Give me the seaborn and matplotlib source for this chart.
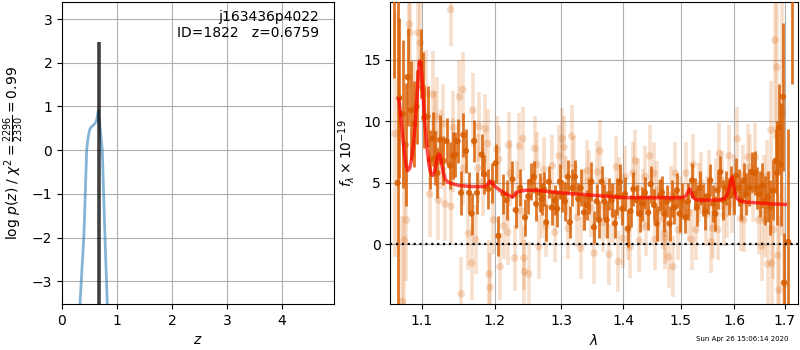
import numpy as np
import pandas as pd
import matplotlib
matplotlib.use("Agg")
import matplotlib.pyplot as plt
import seaborn as sns
from matplotlib.ticker import FixedLocator, FixedFormatter, NullLocator

# ---------------- data ----------------
# redshift probability curve
pz_z = [0.30, 0.327, 0.40, 0.449, 0.47, 0.50, 0.52, 0.56, 0.60, 0.63, 0.66,
        0.69, 0.733, 0.78, 0.824, 0.85]
pz_logp = [-4.3, -3.52, -1.91, 0.0, 0.25, 0.45, 0.51, 0.56, 0.61, 0.68, 0.9,
           0.55, 0.0, -1.91, -3.52, -4.5]
z_best = 0.6759
z_line_range = [-3.6, 2.47]

obj_name = "j163436p4022"
obj_id = 1822
chi2_num, chi2_den, chi2_red = 2296, 2330, 0.99
timestamp = "Sun Apr 26 15:06:14 2020"

# binned (dark) spectrum
wl_dark = [1.0631, 1.0683, 1.0704, 1.0747, 1.0786, 1.0811, 1.0856, 1.0899, 1.0929, 1.0982,
           1.1008, 1.1030, 1.1074, 1.1106, 1.1141, 1.1173, 1.1205, 1.1240, 1.1285, 1.1330,
           1.1376, 1.1422, 1.1445, 1.1481, 1.1528, 1.1559, 1.1597, 1.1639, 1.1675, 1.1709,
           1.1751, 1.1816, 1.1855, 1.1912, 1.1969, 1.2016, 1.2055, 1.2128, 1.2176, 1.2260,
           1.2309, 1.2374, 1.2448,
           1.2495, 1.2530, 1.2580, 1.2615, 1.2666, 1.2696, 1.2732, 1.2768, 1.2809, 1.2850,
           1.2901, 1.2937, 1.2979, 1.3015, 1.3057, 1.3104, 1.3135, 1.3172, 1.3215, 1.3268,
           1.3306, 1.3359, 1.3402, 1.3439, 1.3478, 1.3520, 1.3564, 1.3601, 1.3645, 1.3688,
           1.3727, 1.3765, 1.3810, 1.3865, 1.3904, 1.3948, 1.3987, 1.4032, 1.4083, 1.4128,
           1.4174, 1.4230, 1.4282, 1.4327, 1.4373, 1.4431, 1.4472, 1.4530, 1.4576, 1.4635,
           1.4668, 1.4709, 1.4757, 1.4804, 1.4845, 1.4887, 1.4934, 1.4983, 1.5031, 1.5086,
           1.5134, 1.5206, 1.5255, 1.5298, 1.5346, 1.5402, 1.5452, 1.5502, 1.5546, 1.5595,
           1.5639, 1.5683, 1.5733, 1.5784, 1.5835, 1.5891, 1.5935, 1.5985, 1.6037, 1.6088,
           1.6134, 1.6179, 1.6232, 1.6285, 1.6341, 1.6394, 1.6440, 1.6492, 1.6545, 1.6605,
           1.6660, 1.6704, 1.6758, 1.6811, 1.6845, 1.6880, 1.6914, 1.6961, 1.6984, 1.7068,
           1.7145]
fl_dark = [22.0, 5.0, 11.9, 10.6, 8.1, 13.6, 10.9, 9.8, 11.2, 14.7,
           12.8, 10.3, 10.4, 6.9, 8.6, 7.0, 5.8, 8.5, 6.8, 8.4,
           6.4, 7.2, 7.3, 8.4, 4.2, 8.9, 7.6, 4.2, 2.5, 8.4,
           4.2, 7.3, 5.7, 4.5, 5.0, 6.6, 0.7, 4.1, 3.6, 5.3,
           2.8, 4.6, 2.2,
           3.9, 5.1, 5.5, 3.3, 4.2, 3.7, 4.5, 1.8, 5.1, 3.0,
           3.6, 2.9, 5.1, 3.9, 3.5, 5.5, 1.8, 4.6, 5.5, 3.7,
           4.6, 2.6, 3.2, 3.9, 5.1, 1.4, 3.5, 2.0, 5.1, 3.5,
           2.0, 4.1, 3.6, 1.7, 3.9, 5.1, 2.9, 4.1, 1.3, 2.7,
           4.5, 3.6, 2.5, 3.3, 4.2, 2.6, 4.9, 3.2, 1.7, 4.0,
           4.2, 2.5, 3.5, 1.7, 3.7, 3.0, 4.4, 2.5, 3.6, 2.2,
           3.5, 5.2, 4.1, 3.0, 4.6, 3.6, 2.7, 3.9, 5.2, 3.3,
           2.5, 4.4, 5.9, 3.6, 4.6, 3.9, 5.1, 4.1, 5.6, 4.6,
           3.6, 5.2, 4.1, 4.6, 5.9, 5.8, 4.6, 4.1, 4.8, 3.6,
           3.9, 3.0, 4.4, 6.8, 5.8, 9.5, 6.5, 12.0, -3.1, 0.2,
           22.0]
er_dark = [8.5, 30.0, 6.5, 6.0, 5.0, 4.0, 4.0, 3.5, 3.0, 2.8,
           2.8, 2.5, 2.5, 2.4, 2.2, 2.2, 2.0, 2.0, 2.0, 1.9,
           1.9, 1.9, 1.8, 1.8, 1.8, 1.8, 1.8, 1.7, 1.7, 1.7,
           1.7, 1.7, 1.6, 1.6, 1.6, 1.6, 1.6, 1.6, 1.6, 1.5,
           1.5, 1.5, 1.5,
           1.4, 1.5, 1.3, 1.4, 1.6, 1.3, 1.4, 1.5, 1.3, 1.4,
           1.2, 1.5, 1.4, 1.3, 1.6, 1.4, 1.3, 1.5, 1.4, 1.3,
           1.5, 1.4, 1.2, 1.4, 1.6, 1.3, 1.4, 1.5, 1.3, 1.4,
           1.5, 1.3, 1.4, 1.2, 1.5, 1.4, 1.3, 1.4, 1.5, 1.3,
           1.4, 1.2, 1.5, 1.4, 1.3, 1.4, 1.5, 1.3, 1.4, 1.3,
           1.4, 1.5, 1.3, 1.4, 1.5, 1.3, 1.4, 1.5, 1.4, 1.3,
           1.5, 1.4, 1.3, 1.5, 1.4, 1.3, 1.5, 1.4, 1.3, 1.5,
           1.4, 1.5, 1.3, 1.6, 1.4, 1.5, 1.3, 1.6, 1.4, 1.5,
           1.6, 1.4, 1.7, 1.5, 1.6, 1.8, 1.7, 1.9, 1.8, 2.0,
           2.1, 2.2, 2.4, 2.6, 4.2, 3.5, 5.0, 6.0, 4.0, 9.2,
           9.0]

# unbinned (light) spectrum
wl_light = [1.0650, 1.0745, 1.0770, 1.0796, 1.0836, 1.0845, 1.0900, 1.0948, 1.0978, 1.1050,
            1.1101, 1.1141, 1.1170, 1.1195, 1.1220, 1.1254, 1.1286, 1.1308, 1.1385, 1.1390,
            1.1412, 1.1422, 1.1505, 1.1529, 1.1552, 1.1561, 1.1631, 1.1675, 1.1690, 1.1732,
            1.1761, 1.1780, 1.1830, 1.1865, 1.1902, 1.1920, 1.1936, 1.1985, 1.2033, 1.2058,
            1.2081, 1.2131, 1.2190, 1.2204, 1.2229, 1.2293, 1.2328, 1.2364, 1.2394, 1.2414,
            1.2429, 1.2439,
            1.2504, 1.2594, 1.2629, 1.2655, 1.2700, 1.2731, 1.2767, 1.2860, 1.2900, 1.2964,
            1.3016, 1.3042, 1.3080, 1.3110, 1.3163, 1.3200, 1.3250, 1.3306, 1.3359, 1.3413,
            1.3440, 1.3480, 1.3521, 1.3575, 1.3614, 1.3660, 1.3712, 1.3767, 1.3840, 1.3890,
            1.3923, 1.3935, 1.4000, 1.4036, 1.4076, 1.4116, 1.4162, 1.4208, 1.4250, 1.4278,
            1.4336, 1.4382, 1.4400, 1.4453, 1.4523, 1.4541, 1.4580, 1.4618, 1.4690, 1.4719,
            1.4727, 1.4786, 1.4830, 1.4862, 1.4903, 1.4962, 1.5000, 1.5099, 1.5150, 1.5200,
            1.5230, 1.5278, 1.5330, 1.5380, 1.5470, 1.5520, 1.5561, 1.5592, 1.5650, 1.5684,
            1.5714, 1.5760, 1.5807, 1.5869, 1.5900, 1.5950, 1.5994, 1.6056, 1.6119, 1.6160,
            1.6183, 1.6266, 1.6311, 1.6360, 1.6407, 1.6472, 1.6537, 1.6570, 1.6602, 1.6630,
            1.6655, 1.6721, 1.6734, 1.6767, 1.6800, 1.6834, 1.6854, 1.6881, 1.6948, 1.6988]
fl_light = [9.0, -4.65, 0.35, 2.0, 17.9, 17.2, 11.0, 17.2, 16.4, 12.3,
            4.1, 12.2, 9.0, 10.4, 3.6, 7.7, 9.8, 3.3, 19.1, 3.1,
            7.3, 9.5, 12.0, -4.0, 12.6, 6.2, 0.9, -1.5, 10.9, 0.4,
            6.2, 9.6, 5.1, 9.4, 8.2, -2.4, -3.5, 2.0, 7.7, 6.9,
            -1.8, 1.5, 1.0, 8.1, 5.8, -1.1, 4.1, 8.0, 2.7, 8.6,
            -1.1, -2.2,
            -2.4, 7.8, 6.5, -0.2, 3.0, 6.1, 1.5, 6.4, 1.0, 7.2,
            8.6, 7.9, 4.8, 1.3, 8.8, 6.3, 2.2, -0.3, 3.6, 6.0,
            5.2, 3.0, -0.7, 5.9, 7.6, 1.8, 3.0, -0.8, 2.5, 6.3,
            -1.4, 4.6, 0.5, 5.5, 1.2, -0.2, 5.8, 6.8, 4.6, 0.3,
            3.6, 5.5, 1.5, 7.2, 5.8, 0.4, 4.4, 2.7, 2.1, 0.9,
            0.5, -1.0, 4.0, -1.8, 5.8, 1.2, 3.2, 5.8, 2.6, 0.4,
            6.5, 1.2, 4.2, 5.0, 2.4, 5.3, 0.2, 1.3, 4.6, 1.2,
            7.4, 5.2, 2.4, 3.0, 7.2, 3.3, 4.8, 8.6, 2.1, 5.6,
            2.0, 7.1, 6.3, 4.4, 7.1, 2.0, -0.1, 4.5, 2.0, 5.5,
            -1.6, 9.3, -1.5, 1.2, 16.6, 14.4, -0.9, -3.7, 10.7, -3.2]
er_light = [10.0, 7.0, 6.0, 5.0, 4.5, 4.5, 4.0, 4.0, 4.0, 3.5,
            3.5, 3.5, 3.5, 3.2, 3.2, 3.2, 3.2, 3.0, 3.0, 3.0,
            3.0, 3.0, 3.0, 3.0, 3.0, 3.0, 3.0, 3.0, 3.0, 2.8,
            2.8, 2.8, 2.8, 2.8, 2.8, 2.8, 2.8, 2.8, 2.7, 2.7,
            2.7, 2.7, 2.7, 2.7, 2.7, 2.7, 2.7, 2.7, 2.7, 2.6,
            2.6, 2.6,
            2.6, 2.6, 2.6, 2.6, 2.5, 2.6, 2.5, 2.5, 2.4, 2.5,
            2.5, 2.5, 2.4, 2.5, 2.5, 2.5, 2.4, 2.5, 2.5, 2.5,
            2.5, 2.4, 2.5, 2.5, 2.5, 2.4, 2.5, 2.5, 2.4, 2.5,
            2.5, 2.5, 2.4, 2.5, 2.5, 2.5, 2.5, 2.5, 2.4, 2.5,
            2.5, 2.5, 2.4, 2.5, 2.5, 2.5, 2.4, 2.5, 2.5, 2.5,
            2.5, 2.5, 2.4, 2.5, 2.5, 2.5, 2.4, 2.5, 2.4, 2.5,
            2.5, 2.5, 2.4, 2.5, 2.5, 2.4, 2.5, 2.5, 2.4, 2.5,
            2.5, 2.4, 2.5, 2.5, 2.5, 2.4, 2.5, 2.6, 2.6, 2.5,
            2.6, 2.7, 2.7, 2.6, 2.8, 2.8, 2.9, 2.8, 3.0, 3.0,
            3.2, 4.0, 3.5, 4.0, 8.0, 8.0, 5.0, 6.0, 10.0, 8.0]

# best-fit model
model_wl = [1.0700, 1.0720, 1.0740, 1.0765, 1.0790, 1.0815, 1.0840, 1.0860, 1.0885, 1.0908,
            1.0930, 1.0950, 1.0966, 1.0982, 1.0998, 1.1015, 1.1035, 1.1061, 1.1092, 1.1115,
            1.1140, 1.1165, 1.1190, 1.1210, 1.1228, 1.1245, 1.1265, 1.1286, 1.1310, 1.1340,
            1.1376, 1.1430, 1.1490, 1.1675, 1.1864, 1.1905, 1.1935, 1.1965, 1.2000, 1.2054,
            1.2153, 1.2220, 1.2255, 1.2290, 1.2323, 1.2449, 1.2620, 1.2961, 1.3488, 1.4040,
            1.4733, 1.5018, 1.5090, 1.5130, 1.5163, 1.5195, 1.5230, 1.5280, 1.5400, 1.5696,
            1.5800, 1.5860, 1.5905, 1.5935, 1.5955, 1.5980, 1.6010, 1.6050, 1.6100, 1.6207,
            1.6732, 1.7010]
model_fl = [11.8, 10.6, 9.3, 7.7, 6.5, 6.0, 6.2, 6.8, 8.0, 9.6,
            11.6, 13.6, 14.9, 14.8, 13.7, 12.0, 10.0, 8.2, 6.5, 5.8,
            5.6, 5.9, 6.6, 7.2, 7.35, 7.1, 6.5, 5.8, 5.3, 5.1,
            5.0, 4.9, 4.8, 4.7, 4.7, 4.9, 5.15, 5.0, 4.75, 4.5,
            4.15, 3.95, 3.85, 4.0, 4.25, 4.4, 4.4, 4.2, 4.0, 3.8,
            3.8, 3.8, 3.9, 4.2, 4.5, 4.2, 3.8, 3.65, 3.6, 3.6,
            3.7, 4.0, 4.6, 5.2, 5.5, 5.0, 4.2, 3.75, 3.55, 3.45,
            3.3, 3.25]

zero_level = 0.0

# ---------------- styling ----------------
orange = "#d95f02"
fig = plt.figure(figsize=(8, 3.5), dpi=100)
ax1 = fig.add_axes([0.0775, 0.1314, 0.340, 0.8629])
ax2 = fig.add_axes([0.4879, 0.1314, 0.5096, 0.8629])

# ---- left panel: p(z)
sns.lineplot(x=pz_z, y=pz_logp, ax=ax1, color="#1f77b4", alpha=0.55, lw=2,
             sort=False, estimator=None)
ax1.vlines(z_best, z_line_range[0], z_line_range[1], color="k", alpha=0.75, lw=2.6,
           zorder=3)
ax1.set_xlim(0, 4.95)
ax1.set_ylim(-3.52, 3.39)
ax1.set_xticks([0, 1, 2, 3, 4])
ax1.set_yticks([-3, -2, -1, 0, 1, 2, 3])
ax1.grid(True, color="#b0b0b0", lw=0.8)
ax1.set_xlabel(r"$z$")
ax1.set_ylabel(r"log $p(z)$ / $\chi^2=\frac{%d}{%d}=%.2f$" % (chi2_num, chi2_den, chi2_red))
ax1.text(0.945, 0.975, "%s\nID=%d   z=%.4f" % (obj_name, obj_id, z_best),
         transform=ax1.transAxes, ha="right", va="top", fontsize=10)

# ---- right panel: spectrum
light = pd.DataFrame({"wl": wl_light, "fl": fl_light, "er": er_light})
dark = pd.DataFrame({"wl": wl_dark, "fl": fl_dark, "er": er_dark})

ax2.errorbar(light["wl"], light["fl"], yerr=light["er"], fmt="none", ecolor=orange,
             alpha=0.2, lw=2.6, zorder=2)
sns.scatterplot(data=light, x="wl", y="fl", ax=ax2, color=orange, alpha=0.22, s=30,
                edgecolor="none", zorder=2)
ax2.errorbar(dark["wl"], dark["fl"], yerr=dark["er"], fmt="none", ecolor=orange,
             alpha=0.85, lw=2.0, zorder=3)
sns.scatterplot(data=dark, x="wl", y="fl", ax=ax2, color=orange, alpha=0.9, s=20,
                edgecolor="none", zorder=3)
sns.lineplot(x=model_wl, y=model_fl, ax=ax2, color="red", alpha=0.7, lw=2.5,
             sort=False, estimator=None, zorder=4)
ax2.axhline(zero_level, color="k", ls=":", lw=1.6, zorder=5)

ax2.set_xscale("log")
ax2.set_xlim(1.059, 1.727)
ax2.set_ylim(-4.84, 19.7)
xt = [1.1, 1.2, 1.3, 1.4, 1.5, 1.6, 1.7]
ax2.xaxis.set_major_locator(FixedLocator(xt))
ax2.xaxis.set_major_formatter(FixedFormatter(["%.1f" % v for v in xt]))
ax2.xaxis.set_minor_locator(NullLocator())
ax2.set_yticks([0, 5, 10, 15])
ax2.grid(True, color="#b0b0b0", lw=0.8)
ax2.set_xlabel(r"$\lambda$")
ax2.set_ylabel(r"$f_\lambda \times 10^{-19}$")

fig.text(0.985, 0.031, timestamp, ha="right", va="center", fontsize=5)

fig.savefig("out.png", dpi=100)
